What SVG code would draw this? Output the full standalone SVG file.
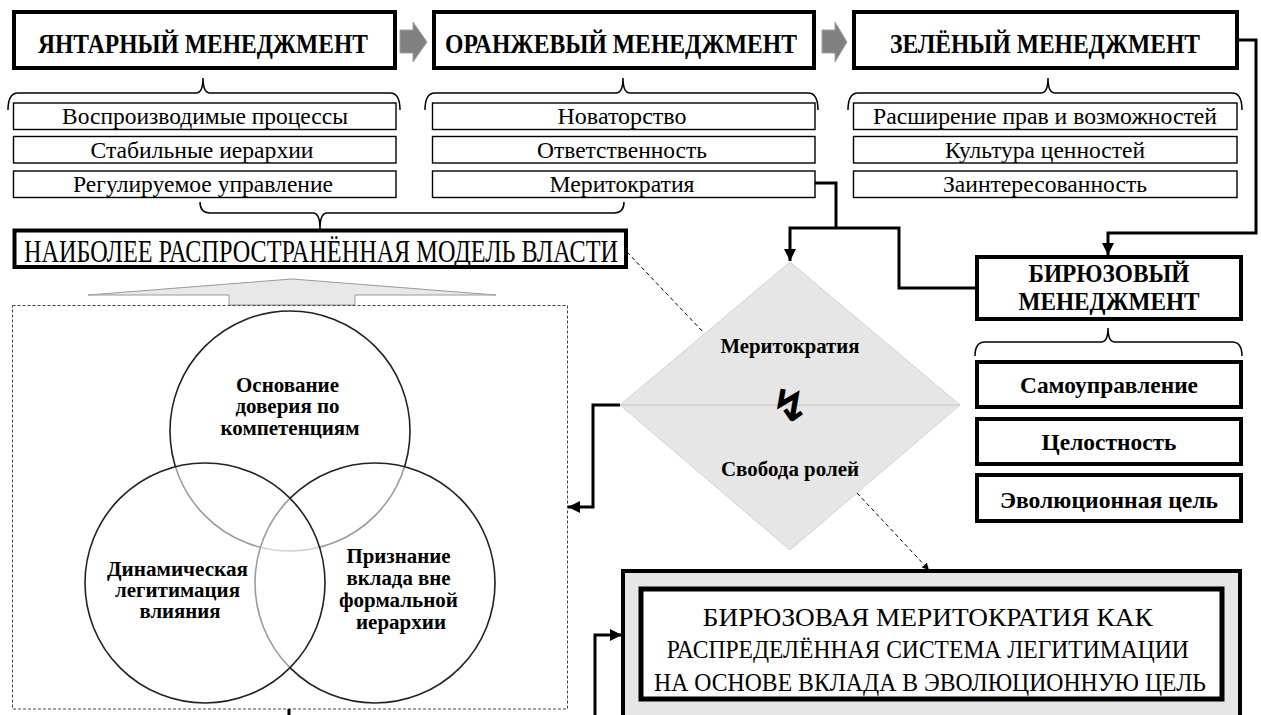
<svg xmlns="http://www.w3.org/2000/svg" width="1261" height="715" viewBox="0 0 1261 715">
<style>
.hdr{fill:#fff;stroke:#000;stroke-width:4}
.item{fill:#fff;stroke:#000;stroke-width:1.4}
.titem{fill:#fff;stroke:#000;stroke-width:4}
.t{text-anchor:middle;fill:#000}
.b{font-weight:bold}
.conn{fill:none;stroke:#000;stroke-width:3}
.brace{fill:none;stroke:#000;stroke-width:1.5}
.dash{fill:none;stroke:#000;stroke-width:1;stroke-dasharray:4 3}
.garrow{fill:#808080;stroke:#a0a0a0;stroke-width:1}
.circ{fill:#fff;fill-opacity:0.55;stroke:#222;stroke-width:1.6}
</style>
<defs>
<marker id="ah" viewBox="0 0 10 10" refX="10" refY="5" markerUnits="userSpaceOnUse" markerWidth="12" markerHeight="12" orient="auto">
<path d="M0,0 L10,5 L0,10 z" fill="#000"/>
</marker>
<marker id="ahs" viewBox="0 0 10 10" refX="10" refY="5" markerUnits="userSpaceOnUse" markerWidth="7" markerHeight="7" orient="auto">
<path d="M0,0 L10,5 L0,10 z" fill="#000"/>
</marker>
</defs>
<rect width="1261" height="715" fill="#fff"/>
<g font-family="'Liberation Serif', 'Times New Roman', 'DejaVu Serif', serif">

<g id="amber">
<rect class="hdr" x="14" y="12" width="381" height="56"/>
<text class="t b" x="203" y="53" font-size="27" textLength="330" lengthAdjust="spacingAndGlyphs">ЯНТАРНЫЙ МЕНЕДЖМЕНТ</text>
<path class="brace" d="M8,110 Q8,93 18,93 L196,93 Q203,93 203,78 Q203,93 210,93 L390,93 Q400,93 400,110"/>
<rect class="item" x="13.5" y="103" width="382.5" height="26.5"/>
<text class="t" x="205" y="124" font-size="23" textLength="286" lengthAdjust="spacingAndGlyphs">Воспроизводимые процессы</text>
<rect class="item" x="13.5" y="136.5" width="382.5" height="26.5"/>
<text class="t" x="202" y="158" font-size="23" textLength="223" lengthAdjust="spacingAndGlyphs">Стабильные иерархии</text>
<rect class="item" x="13.5" y="171" width="382.5" height="26.5"/>
<text class="t" x="203" y="192" font-size="23" textLength="260" lengthAdjust="spacingAndGlyphs">Регулируемое управление</text>
</g>

<g id="arrow1"><polygon class="garrow" points="400,30 413,30 413,22 427,42 413,62 413,53 400,53"/></g>

<g id="orange">
<rect class="hdr" x="434" y="12" width="380" height="56"/>
<text class="t b" x="621" y="53" font-size="27" textLength="352" lengthAdjust="spacingAndGlyphs">ОРАНЖЕВЫЙ МЕНЕДЖМЕНТ</text>
<path class="brace" d="M425,110 Q425,93 435,93 L616,93 Q623,93 623,78 Q623,93 630,93 L808,93 Q818,93 818,110"/>
<rect class="item" x="432.5" y="103" width="382.5" height="26.5"/>
<text class="t" x="622" y="124" font-size="23" textLength="129" lengthAdjust="spacingAndGlyphs">Новаторство</text>
<rect class="item" x="432.5" y="136.5" width="382.5" height="26.5"/>
<text class="t" x="622" y="158" font-size="23" textLength="170" lengthAdjust="spacingAndGlyphs">Ответственность</text>
<rect class="item" x="432.5" y="171" width="382.5" height="26.5"/>
<text class="t" x="622" y="192" font-size="23" textLength="145" lengthAdjust="spacingAndGlyphs">Меритократия</text>
</g>

<g id="arrow2"><polygon class="garrow" points="822,30 835,30 835,22 847,42 835,62 835,53 822,53"/></g>

<g id="green">
<rect class="hdr" x="854" y="12" width="383" height="56"/>
<text class="t b" x="1045" y="53" font-size="27" textLength="310" lengthAdjust="spacingAndGlyphs">ЗЕЛЁНЫЙ МЕНЕДЖМЕНТ</text>
<path class="brace" d="M848,110 Q848,93 858,93 L1041,93 Q1048,93 1048,78 Q1048,93 1055,93 L1232,93 Q1242,93 1242,110"/>
<rect class="item" x="853.5" y="103" width="383.5" height="26.5"/>
<text class="t" x="1045" y="124" font-size="23" textLength="344" lengthAdjust="spacingAndGlyphs">Расширение прав и возможностей</text>
<rect class="item" x="853.5" y="136.5" width="383.5" height="26.5"/>
<text class="t" x="1045" y="158" font-size="23" textLength="200" lengthAdjust="spacingAndGlyphs">Культура ценностей</text>
<rect class="item" x="853.5" y="171" width="383.5" height="26.5"/>
<text class="t" x="1045" y="192" font-size="23" textLength="204" lengthAdjust="spacingAndGlyphs">Заинтересованность</text>
</g>

<g id="power-model">
<path class="brace" d="M200,202 Q200,213 210,213 L313,213 Q320,213 320,229 Q320,213 327,213 L614,213 Q624,213 624,202"/>
<rect class="hdr" x="14.5" y="230.5" width="611.5" height="36.5" stroke-width="3.5"/>
<text class="t" x="321" y="262" font-size="31" textLength="594" lengthAdjust="spacingAndGlyphs">НАИБОЛЕЕ РАСПРОСТРАНЁННАЯ МОДЕЛЬ ВЛАСТИ</text>
<polygon points="88,295 292,279 496,295 355,295 355,305 229,305 229,295" fill="#e8e8e8" stroke="#9a9a9a" stroke-width="1"/>
</g>

<g id="venn">
<rect x="12.5" y="305.5" width="555" height="403.5" fill="none" stroke="#444" stroke-width="1" stroke-dasharray="3 2"/>
<circle class="circ" cx="290" cy="431" r="120"/>
<circle class="circ" cx="375" cy="583" r="120"/>
<circle class="circ" cx="205" cy="583" r="120"/>
<text class="t b" font-size="20">
<tspan x="290" y="392" textLength="103" lengthAdjust="spacingAndGlyphs">Основание</tspan>
<tspan x="290" y="413" textLength="104" lengthAdjust="spacingAndGlyphs">доверия по</tspan>
<tspan x="290" y="435" textLength="139" lengthAdjust="spacingAndGlyphs">компетенциям</tspan>
</text>
<text class="t b" font-size="20">
<tspan x="180" y="576" textLength="141" lengthAdjust="spacingAndGlyphs">Динамическая</tspan>
<tspan x="180" y="597" textLength="125" lengthAdjust="spacingAndGlyphs">легитимация</tspan>
<tspan x="180" y="618" textLength="81" lengthAdjust="spacingAndGlyphs">влияния</tspan>
</text>
<text class="t b" font-size="20">
<tspan x="401" y="563" textLength="104" lengthAdjust="spacingAndGlyphs">Признание</tspan>
<tspan x="401" y="585" textLength="104" lengthAdjust="spacingAndGlyphs">вклада вне</tspan>
<tspan x="401" y="607" textLength="119" lengthAdjust="spacingAndGlyphs">формальной</tspan>
<tspan x="401" y="629" textLength="90" lengthAdjust="spacingAndGlyphs">иерархии</tspan>
</text>
</g>

<g id="diamond">
<polygon points="790,262 960,405 790,550 620,405" fill="#e6e6e6" stroke="#d2d2d2" stroke-width="1"/>
<line x1="620" y1="405" x2="960" y2="405" stroke="#c4c4c4" stroke-width="1.2"/>
<text class="t b" x="790" y="353" font-size="22" textLength="139" lengthAdjust="spacingAndGlyphs">Меритократия</text>
<text x="790" y="421" font-family="'DejaVu Sans', sans-serif" font-weight="bold" font-size="44" text-anchor="middle" fill="#000">↯</text>
<text class="t b" x="790" y="476" font-size="22" textLength="138" lengthAdjust="spacingAndGlyphs">Свобода ролей</text>
</g>

<g id="teal">
<rect class="hdr" x="977" y="257" width="264" height="62"/>
<text class="t b" x="1109" y="282" font-size="25" textLength="161" lengthAdjust="spacingAndGlyphs">БИРЮЗОВЫЙ</text>
<text class="t b" x="1109" y="310" font-size="25" textLength="181" lengthAdjust="spacingAndGlyphs">МЕНЕДЖМЕНТ</text>
<path class="brace" d="M975,356 Q975,342 985,342 L1101,342 Q1108,342 1108,328 Q1108,342 1115,342 L1232,342 Q1242,342 1242,356"/>
<rect class="titem" x="977" y="362" width="264" height="45"/>
<text class="t b" x="1109" y="393" font-size="23" textLength="178" lengthAdjust="spacingAndGlyphs">Самоуправление</text>
<rect class="titem" x="977" y="419" width="264" height="45"/>
<text class="t b" x="1109" y="450" font-size="23" textLength="135" lengthAdjust="spacingAndGlyphs">Целостность</text>
<rect class="titem" x="977" y="475" width="264" height="46"/>
<text class="t b" x="1109" y="508" font-size="23" textLength="218" lengthAdjust="spacingAndGlyphs">Эволюционная цель</text>
</g>

<g id="result">
<rect x="623" y="571" width="617" height="200" fill="#e6e6e6" stroke="#000" stroke-width="4"/>
<rect x="641" y="589" width="581" height="110" fill="#fff" stroke="#000" stroke-width="5"/>
<text class="t" font-size="26">
<tspan x="931" y="626" textLength="450" lengthAdjust="spacingAndGlyphs">БИРЮЗОВАЯ МЕРИТОКРАТИЯ КАК</tspan>
<tspan x="931" y="658" textLength="522" lengthAdjust="spacingAndGlyphs">РАСПРЕДЕЛЁННАЯ СИСТЕМА ЛЕГИТИМАЦИИ</tspan>
<tspan x="930" y="691" textLength="552" lengthAdjust="spacingAndGlyphs">НА ОСНОВЕ ВКЛАДА В ЭВОЛЮЦИОННУЮ ЦЕЛЬ</tspan>
</text>
</g>
</g>

<g id="connectors">
<path class="conn" d="M1237,40 H1256 V233 H1108 V255" marker-end="url(#ah)"/>
<path class="conn" d="M815,183 H836 V228"/>
<path class="conn" d="M977,288 H899 V228 H790 V261" marker-end="url(#ah)"/>
<path class="conn" d="M620,405 H593 V507 H568" marker-end="url(#ah)"/>
<path class="conn" d="M595,715 V635 H622" marker-end="url(#ah)"/>
<path class="conn" d="M289,709 V715"/>
<path class="dash" d="M627,252 L704,333"/>
<path class="dash" d="M857,493 L929,570" marker-end="url(#ahs)"/>
</g>
</svg>
